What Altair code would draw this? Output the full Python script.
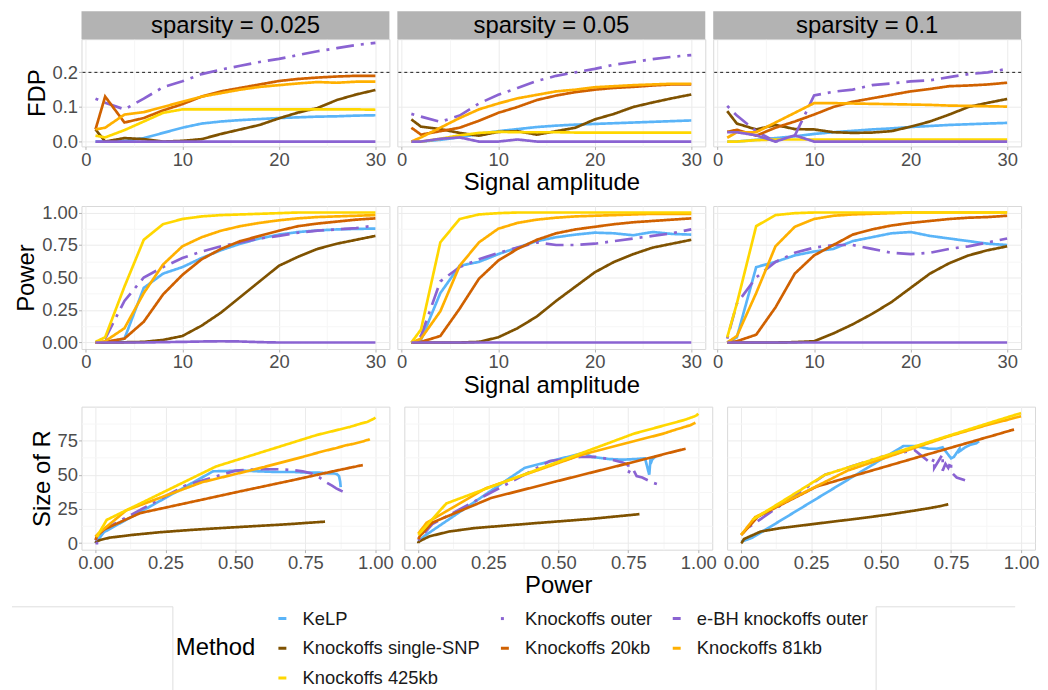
import altair as alt
import pandas as pd

# ---------------- data ----------------
amplitude = [1, 2, 4, 6, 8, 10, 12, 14, 16, 18, 20, 22, 24, 26, 28, 30]
sparsity_labels = ["sparsity = 0.025", "sparsity = 0.05", "sparsity = 0.1"]
fdr_level = [0.2]

method_order = ["KeLP", "Knockoffs outer", "e-BH knockoffs outer",
                "Knockoffs single-SNP", "Knockoffs 20kb", "Knockoffs 81kb",
                "Knockoffs 425kb"]
method_colors = ["#5AB4F8", "#8A63D2", "#8A63D2", "#7F5200", "#D06100",
                 "#FFB000", "#FFD700"]
method_dashes = [[1, 0], [3, 7, 18, 7], [1, 0], [1, 0], [1, 0], [1, 0], [1, 0]]
draw_order = ["KeLP", "Knockoffs single-SNP", "Knockoffs outer", "Knockoffs 20kb",
              "Knockoffs 81kb", "Knockoffs 425kb", "e-BH knockoffs outer"]

Z = [0] * 16

fdp_025 = {
    "KeLP": [0, 0, 0.002, 0.01, 0.025, 0.04, 0.052, 0.058, 0.062, 0.065, 0.068, 0.07, 0.072, 0.073, 0.075, 0.076],
    "Knockoffs single-SNP": [0.035, 0.0, 0.01, 0.007, 0.0, 0.002, 0.007, 0.022, 0.035, 0.048, 0.067, 0.084, 0.097, 0.12, 0.136, 0.149],
    "Knockoffs outer": [0.124, 0.112, 0.093, 0.124, 0.157, 0.174, 0.195, 0.208, 0.219, 0.23, 0.239, 0.25, 0.261, 0.27, 0.279, 0.285],
    "Knockoffs 20kb": [0.035, 0.13, 0.055, 0.068, 0.09, 0.108, 0.13, 0.145, 0.155, 0.165, 0.175, 0.181, 0.185, 0.188, 0.19, 0.19],
    "Knockoffs 81kb": [0.035, 0.04, 0.078, 0.085, 0.1, 0.115, 0.13, 0.14, 0.15, 0.158, 0.163, 0.168, 0.172, 0.17, 0.173, 0.173],
    "Knockoffs 425kb": [0.017, 0.012, 0.033, 0.058, 0.083, 0.093, 0.093, 0.093, 0.093, 0.093, 0.093, 0.093, 0.093, 0.093, 0.093, 0.092],
    "e-BH knockoffs outer": Z,
}
fdp_05 = {
    "KeLP": [0, 0, 0.005, 0.012, 0.022, 0.03, 0.036, 0.042, 0.046, 0.049, 0.051, 0.053, 0.055, 0.057, 0.059, 0.061],
    "Knockoffs single-SNP": [0.064, 0.043, 0.036, 0.025, 0.017, 0.028, 0.03, 0.02, 0.03, 0.04, 0.064, 0.08, 0.1, 0.113, 0.125, 0.136],
    "Knockoffs outer": [0.08, 0.072, 0.057, 0.075, 0.11, 0.135, 0.155, 0.175, 0.19, 0.2, 0.21, 0.222, 0.23, 0.238, 0.245, 0.25],
    "Knockoffs 20kb": [0.04, 0.02, 0.03, 0.04, 0.06, 0.083, 0.1, 0.12, 0.133, 0.143, 0.15, 0.155, 0.158, 0.162, 0.165, 0.165],
    "Knockoffs 81kb": [0.0, 0.012, 0.04, 0.068, 0.093, 0.11, 0.125, 0.135, 0.145, 0.15, 0.157, 0.16, 0.163, 0.165, 0.167, 0.167],
    "Knockoffs 425kb": [0, 0, 0.008, 0.018, 0.025, 0.028, 0.027, 0.027, 0.027, 0.026, 0.026, 0.026, 0.026, 0.026, 0.026, 0.026],
    "e-BH knockoffs outer": [0, 0, 0.008, 0.012, 0, 0, 0.006, 0, 0, 0, 0, 0, 0, 0, 0, 0],
}
fdp_1 = {
    "KeLP": [0, 0, 0.005, 0.01, 0.015, 0.022, 0.027, 0.031, 0.035, 0.038, 0.042, 0.045, 0.048, 0.05, 0.052, 0.054],
    "Knockoffs single-SNP": [0.088, 0.052, 0.035, 0.048, 0.036, 0.035, 0.027, 0.025, 0.026, 0.03, 0.043, 0.058, 0.078, 0.1, 0.112, 0.123],
    "Knockoffs outer": [0.103, 0.075, 0.03, 0.0, 0.017, 0.133, 0.144, 0.15, 0.163, 0.168, 0.174, 0.177, 0.186, 0.195, 0.2, 0.21],
    "Knockoffs 20kb": [0.028, 0.034, 0.017, 0.04, 0.058, 0.078, 0.1, 0.115, 0.125, 0.135, 0.145, 0.152, 0.16, 0.162, 0.165, 0.17],
    "Knockoffs 81kb": [0.011, 0.027, 0.027, 0.055, 0.083, 0.111, 0.111, 0.11, 0.109, 0.108, 0.107, 0.106, 0.104, 0.103, 0.102, 0.101],
    "Knockoffs 425kb": [0, 0, 0.004, 0.006, 0.006, 0.006, 0.006, 0.006, 0.006, 0.006, 0.006, 0.006, 0.006, 0.006, 0.006, 0.006],
    "e-BH knockoffs outer": [0.027, 0.027, 0.018, 0.0, 0.018, 0, 0, 0, 0, 0, 0, 0, 0, 0, 0, 0],
}

power_025 = {
    "KeLP": [0, 0, 0.03, 0.42, 0.53, 0.58, 0.65, 0.71, 0.76, 0.8, 0.83, 0.85, 0.862, 0.87, 0.874, 0.876],
    "Knockoffs single-SNP": [0, 0, 0.002, 0.005, 0.02, 0.05, 0.13, 0.23, 0.35, 0.47, 0.59, 0.66, 0.72, 0.76, 0.79, 0.82],
    "Knockoffs outer": [0, 0.03, 0.32, 0.5, 0.58, 0.65, 0.7, 0.74, 0.77, 0.8, 0.82, 0.845, 0.86, 0.87, 0.88, 0.9],
    "Knockoffs 20kb": [0, 0.005, 0.03, 0.16, 0.37, 0.52, 0.64, 0.72, 0.78, 0.82, 0.86, 0.895, 0.915, 0.93, 0.945, 0.955],
    "Knockoffs 81kb": [0, 0.01, 0.11, 0.38, 0.6, 0.74, 0.81, 0.86, 0.895, 0.92, 0.94, 0.955, 0.965, 0.97, 0.975, 0.98],
    "Knockoffs 425kb": [0.005, 0.04, 0.43, 0.79, 0.91, 0.95, 0.97, 0.98, 0.985, 0.99, 0.995, 1, 1, 1, 1, 1],
    "e-BH knockoffs outer": [0, 0, 0, 0, 0.003, 0.005, 0.008, 0.01, 0.008, 0.003, 0, 0, 0, 0, 0, 0],
}
power_05 = {
    "KeLP": [0, 0.02, 0.38, 0.59, 0.62, 0.68, 0.73, 0.78, 0.81, 0.83, 0.845, 0.84, 0.825, 0.85, 0.835, 0.83],
    "Knockoffs single-SNP": [0, 0, 0, 0, 0.005, 0.04, 0.11, 0.2, 0.32, 0.43, 0.54, 0.62, 0.68, 0.73, 0.76, 0.79],
    "Knockoffs outer": [0, 0.05, 0.47, 0.58, 0.64, 0.69, 0.73, 0.77, 0.75, 0.75, 0.76, 0.78, 0.8, 0.82, 0.84, 0.87],
    "Knockoffs 20kb": [0, 0.005, 0.05, 0.26, 0.49, 0.63, 0.72, 0.79, 0.84, 0.87, 0.89, 0.91, 0.925, 0.935, 0.945, 0.955],
    "Knockoffs 81kb": [0, 0.03, 0.24, 0.59, 0.77, 0.875, 0.92, 0.945, 0.96, 0.97, 0.975, 0.98, 0.985, 0.99, 0.99, 0.99],
    "Knockoffs 425kb": [0, 0.1, 0.77, 0.95, 0.985, 0.995, 1, 1, 1, 1, 1, 1, 1, 1, 1, 1],
    "e-BH knockoffs outer": Z,
}
power_1 = {
    "KeLP": [0, 0.04, 0.58, 0.62, 0.67, 0.7, 0.72, 0.78, 0.81, 0.84, 0.85, 0.82, 0.8, 0.78, 0.76, 0.75],
    "Knockoffs single-SNP": [0, 0, 0, 0, 0.003, 0.01, 0.07, 0.14, 0.22, 0.31, 0.42, 0.53, 0.61, 0.67, 0.71, 0.74],
    "Knockoffs outer": [0.03, 0.3, 0.5, 0.62, 0.69, 0.73, 0.75, 0.75, 0.72, 0.69, 0.68, 0.69, 0.72, 0.74, 0.77, 0.8],
    "Knockoffs 20kb": [0, 0.01, 0.06, 0.27, 0.53, 0.67, 0.75, 0.83, 0.87, 0.9, 0.92, 0.935, 0.95, 0.96, 0.965, 0.975],
    "Knockoffs 81kb": [0, 0.05, 0.38, 0.74, 0.89, 0.95, 0.975, 0.985, 0.99, 0.995, 1, 1, 1, 1, 1, 1],
    "Knockoffs 425kb": [0.04, 0.3, 0.895, 0.98, 0.995, 1, 1, 1, 1, 1, 1, 1, 1, 1, 1, 1],
    "e-BH knockoffs outer": Z,
}

size_025 = {
    "KeLP": [0, 0, 8, 52.5, 53, 52.5, 52, 52, 51.5, 51.5, 51, 51, 50.5, 49, 45, 41],
    "Knockoffs single-SNP": [0, 0, 0.8, 1.5, 2.5, 4, 6, 8, 9.8, 11.3, 12.7, 13.5, 14.3, 14.9, 15.3, 15.7],
    "Knockoffs outer": [2, 10, 42, 53, 54, 54, 53.5, 52.5, 51, 48, 45, 42, 40, 39, 38, 36],
    "Knockoffs 20kb": [2.4, 5, 10, 22, 31.3, 38, 43.2, 46.7, 49.4, 51.2, 53, 54.5, 55.4, 56, 56.7, 57],
    "Knockoffs 81kb": [4.7, 7, 24, 44.5, 55.5, 63, 67, 69.5, 71.5, 72.5, 73.5, 74.3, 75, 75.3, 75.5, 76],
    "Knockoffs 425kb": [4.7, 17, 56, 79, 85, 87.5, 88.5, 89.5, 90, 90.5, 91, 91.8, 91.8, 91.8, 91.8, 91.8],
    "e-BH knockoffs outer": Z,
}
size_05 = {
    "KeLP": [1, 5, 55, 66, 63, 61.5, 61, 61.5, 62, 62.5, 63, 62, 50, 63, 61, 58],
    "Knockoffs single-SNP": [0, 0, 0, 0.5, 1.5, 5, 8.5, 11, 13, 14.8, 16.5, 17.8, 19, 20, 20.6, 21.2],
    "Knockoffs outer": [2, 14, 60, 63, 63, 61, 59, 53, 57, 51, 55, 49, 48, 46, 44, 42],
    "Knockoffs 20kb": [3, 5, 15, 33, 45, 52.2, 56.8, 60.4, 63, 64.6, 65.7, 66.7, 67.5, 68, 68.5, 69],
    "Knockoffs 81kb": [7, 15, 40, 65, 74.5, 80, 83, 84.5, 85.5, 86, 86.5, 87, 87.5, 88, 88, 88],
    "Knockoffs 425kb": [6, 29, 80, 90, 92.5, 93.5, 94.6, 94.6, 94.6, 94.6, 94.6, 94.6, 94.6, 94.6, 94.6, 94.6],
    "e-BH knockoffs outer": Z,
}
size_1 = {
    "KeLP": [1, 4, 71, 71, 69, 69, 70, 69, 71, 73, 74.5, 72, 70, 67, 63, 62],
    "Knockoffs single-SNP": [0, 0, 0, 0, 0.5, 3, 8.5, 11, 13, 15.3, 18, 21, 23.5, 25.5, 27, 28.4],
    "Knockoffs outer": [12, 50, 63, 68, 62, 58, 60, 52, 65, 57, 58, 55, 53, 55, 48, 46],
    "Knockoffs 20kb": [6, 8, 19.4, 41.4, 56.8, 65.1, 69.8, 74.5, 76.9, 78.6, 79.8, 80.7, 81.6, 82.2, 82.5, 83],
    "Knockoffs 81kb": [6, 19, 53, 78, 87, 90, 91.5, 92, 92.3, 92.5, 92.7, 92.7, 92.7, 92.7, 92.7, 92.7],
    "Knockoffs 425kb": [17, 50, 88.4, 93.8, 94.7, 95, 95, 95, 95, 95, 95, 95, 95, 95, 95, 95],
    "e-BH knockoffs outer": Z,
}

panels_fdp = [fdp_025, fdp_05, fdp_1]
panels_power = [power_025, power_05, power_1]
panels_size = [size_025, size_05, size_1]

# ---------------- helpers ----------------
FONT = "Liberation Sans"


def make_df(fdp, power, size):
    rows = []
    for m in draw_order:
        for i, a in enumerate(amplitude):
            rows.append({"amplitude": a, "method": m, "fdp": fdp[m][i],
                         "power": power[m][i], "size": size[m][i]})
    return pd.DataFrame(rows)


legend = alt.Legend(orient="none", legendX=95, legendY=574, columns=3,
                    direction="horizontal",
                    title="Method", titleOrient="left", titleAnchor="middle",
                    titleBaseline="middle", titlePadding=17,
                    symbolType="stroke", symbolSize=64, symbolStrokeWidth=3,
                    labelOffset=11, rowPadding=11, columnPadding=14,
                    labelLimit=400)

color_enc = alt.Color("method:N", title="Method",
                      scale=alt.Scale(domain=method_order, range=method_colors),
                      legend=legend)
dash_enc = alt.StrokeDash("method:N", title="Method",
                          scale=alt.Scale(domain=method_order, range=method_dashes),
                          legend=legend)


def make_axis(values, test, fmt, labels, title):
    kw = dict(
        values=values,
        gridColor={"condition": {"test": test, "value": "#EBEBEB"}, "value": "#F6F6F6"},
        title=title,
    )
    if labels:
        kw["labelExpr"] = f"({test}) ? format(datum.value, '{fmt}') : ''"
        kw["tickOpacity"] = {"condition": {"test": test, "value": 1}, "value": 0}
    else:
        kw["labels"] = False
        kw["ticks"] = False
        kw["minExtent"] = 0
        kw["maxExtent"] = 0
    return alt.Axis(**kw)


amp_values = [0, 5, 10, 15, 20, 25, 30]
amp_test = "datum.value % 10 == 0"
fdp_values = [0, 0.05, 0.1, 0.15, 0.2, 0.25]
fdp_test = "round(datum.value * 100) % 10 == 0"
pow_values = [0, 0.125, 0.25, 0.375, 0.5, 0.625, 0.75, 0.875, 1.0]
pow_test = "round(datum.value * 1000) % 250 == 0"
size_values = [0, 12.5, 25, 37.5, 50, 62.5, 75, 87.5]
size_test = "round(datum.value * 10) % 250 == 0"

amp_scale = alt.Scale(domain=[-0.45, 31.45], nice=False, zero=False)
fdp_scale = alt.Scale(domain=[-0.014, 0.296], nice=False, zero=False)
pow_scale = alt.Scale(domain=[-0.05, 1.05], nice=False, zero=False)
size_scale = alt.Scale(domain=[-4.75, 99.75], nice=False, zero=False)

W = 310
H1, H2, H3 = 108, 144, 144


def panel(df, col, xf, yf, xscale, yscale, xvals, xtest, xfmt, yvals, ytest, yfmt,
          xtitle, ytitle, H, strip=None, hline=False):
    xaxis = make_axis(xvals, xtest, xfmt, True, xtitle if col == 1 else None)
    if col == 0:
        yaxis = make_axis(yvals, ytest, yfmt, True, ytitle)
    else:
        yaxis = make_axis(yvals, ytest, yfmt, False, None)
    lines = alt.Chart(df).mark_line(strokeWidth=2.7, strokeCap="butt").encode(
        x=alt.X(f"{xf}:Q", scale=xscale, axis=xaxis),
        y=alt.Y(f"{yf}:Q", scale=yscale, axis=yaxis),
        color=color_enc,
        strokeDash=dash_enc,
    )
    layers = []
    if hline:
        layers.append(
            alt.Chart(pd.DataFrame({"level": fdr_level})).mark_rule(
                color="black", strokeDash=[3, 3], strokeWidth=0.9
            ).encode(y=alt.Y("level:Q", scale=yscale))
        )
    layers.append(lines)
    if strip is not None:
        sdf = pd.DataFrame({"label": [strip]})
        layers.append(
            alt.Chart(sdf).mark_rect(color="#B3B3B3").encode(
                x=alt.value(0), x2=alt.value(W), y=alt.value(-28), y2=alt.value(0))
        )
        layers.append(
            alt.Chart(sdf).mark_text(font=FONT, fontSize=24, color="black",
                                     baseline="middle", align="center").encode(
                x=alt.value(W / 2), y=alt.value(-13), text="label:N")
        )
    return alt.layer(*layers).properties(width=W, height=H)


row1, row2, row3 = [], [], []
for c in range(3):
    df = make_df(panels_fdp[c], panels_power[c], panels_size[c])
    row1.append(panel(df, c, "amplitude", "fdp", amp_scale, fdp_scale,
                      amp_values, amp_test, "d", fdp_values, fdp_test, ".1f",
                      "Signal amplitude", "FDP", H1,
                      strip=sparsity_labels[c], hline=True))
    row2.append(panel(df, c, "amplitude", "power", amp_scale, pow_scale,
                      amp_values, amp_test, "d", pow_values, pow_test, ".2f",
                      "Signal amplitude", "Power", H2))
    row3.append(panel(df, c, "power", "size", pow_scale, size_scale,
                      pow_values, pow_test, ".2f", size_values, size_test, "d",
                      "Power", "Size of R", H3))

# legend area frame lines (origin aligned with the plot origin of the rows)
frame_df = pd.DataFrame({"k": [0]})
FH = 90
FRAME = "#DEDEDE"
frame = alt.layer(
    alt.Chart(frame_df).mark_rule(color=FRAME, strokeWidth=1).encode(
        x=alt.value(-70), x2=alt.value(92), y=alt.value(0.5)),
    alt.Chart(frame_df).mark_rule(color=FRAME, strokeWidth=1).encode(
        x=alt.value(92), y=alt.value(0.5), y2=alt.value(FH)),
    alt.Chart(frame_df).mark_rule(color=FRAME, strokeWidth=1).encode(
        x=alt.value(800), x2=alt.value(940), y=alt.value(0.5)),
    alt.Chart(frame_df).mark_rule(color=FRAME, strokeWidth=1).encode(
        x=alt.value(800), y=alt.value(0.5), y2=alt.value(FH)),
).properties(width=900, height=FH, view=alt.ViewBackground(strokeOpacity=0))

chart = alt.vconcat(
    alt.hconcat(*row1, spacing=5),
    alt.hconcat(*row2, spacing=5),
    alt.hconcat(*row3, spacing=5),
    frame,
    spacing=8,
).properties(
    padding={"left": 3, "top": 0, "right": 0, "bottom": 0}, background="white"
).configure_view(
    stroke="#D9D9D9", strokeWidth=1
).configure_axis(
    labelFont=FONT, labelFontSize=18.5, labelColor="#4D4D4D",
    titleFont=FONT, titleFontSize=24, titleColor="black", titleFontWeight="normal",
    domain=False, tickColor="#B3B3B3", tickSize=3, tickWidth=1,
    labelPadding=1, labelOverlap=False, labelFlush=False,
).configure_axisX(titlePadding=2).configure_axisY(titlePadding=3).configure_legend(
    labelFont=FONT, labelFontSize=18.5, labelColor="#1A1A1A",
    titleFont=FONT, titleFontSize=24, titleColor="black", titleFontWeight="normal",
)

chart.save("out.html", embed_options={"renderer": "svg", "actions": False})
